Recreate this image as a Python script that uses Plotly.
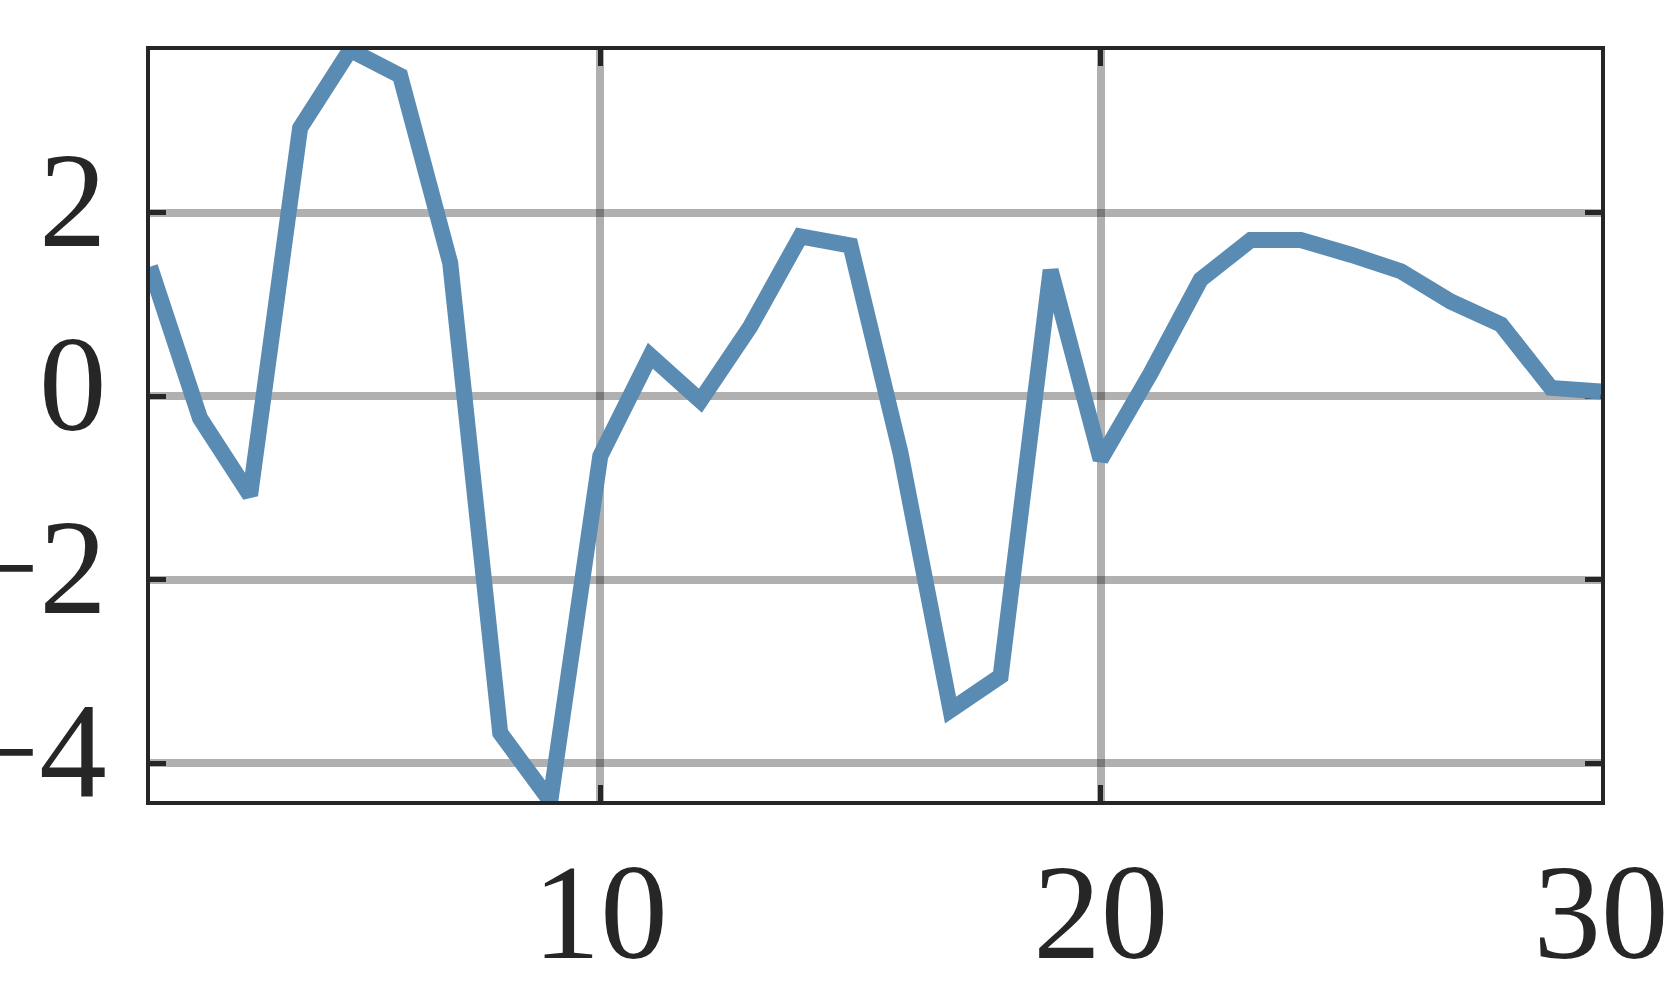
import plotly.graph_objects as go

x_vals = list(range(1, 31))
y_vals = [1.41, -0.24, -1.08, 2.92, 3.77, 3.49, 1.45, -3.67, -4.41, -0.65,
          0.44, -0.05, 0.76, 1.74, 1.64, -0.62, -3.42, -3.05, 1.37, -0.69,
          0.25, 1.27, 1.70, 1.70, 1.54, 1.36, 1.03, 0.78, 0.09, 0.05]

x_ticks = [10, 20, 30]
y_ticks = [-4, -2, 0, 2]
y_tick_text = ["\u22124", "\u22122", "0", "2"]

line_color = "#5a8bb3"
ink = "#262626"
font_family = "Liberation Serif, Times New Roman, serif"
label_size = 135

fig = go.Figure()
fig.add_trace(go.Scatter(
    x=x_vals, y=y_vals, mode="lines",
    line=dict(color=line_color, width=16),
    cliponaxis=False, showlegend=False, hoverinfo="skip",
))

axis_common = dict(
    showline=True, linecolor=ink, linewidth=4, mirror="ticks",
    ticks="inside", ticklen=16, tickwidth=4.5, tickcolor=ink,
    showgrid=True, gridcolor="rgba(0,0,0,0.31)", gridwidth=8,
    zeroline=False, layer="below traces", automargin=False,
    tickfont=dict(family=font_family, size=label_size, color=ink),
)

fig.update_xaxes(range=[1, 30], tickmode="array", tickvals=x_ticks,
                 ticktext=[str(v) for v in x_ticks], ticklabelstandoff=-9,
                 ticklabeloverflow="allow", **axis_common)
fig.update_yaxes(range=[min(y_vals), max(y_vals)], tickmode="array",
                 tickvals=y_ticks, ticktext=y_tick_text, showticklabels=False,
                 **axis_common)

# y tick labels sit slightly above their grid lines, as in the reference
for val, txt in zip(y_ticks, y_tick_text):
    fig.add_annotation(
        x=0, xref="paper", y=val, yref="y", text=txt, showarrow=False,
        xanchor="right", yanchor="middle", xshift=-41, yshift=12,
        font=dict(family=font_family, size=label_size, color=ink),
    )

fig.update_layout(
    width=1667, height=1000,
    margin=dict(l=150, r=66, t=50, b=199, pad=0),
    paper_bgcolor="white", plot_bgcolor="white",
)

fig.write_html("out.html", config={"displayModeBar": False},
               post_script="document.body.style.margin='0';"
                           "document.body.style.padding='0';")
